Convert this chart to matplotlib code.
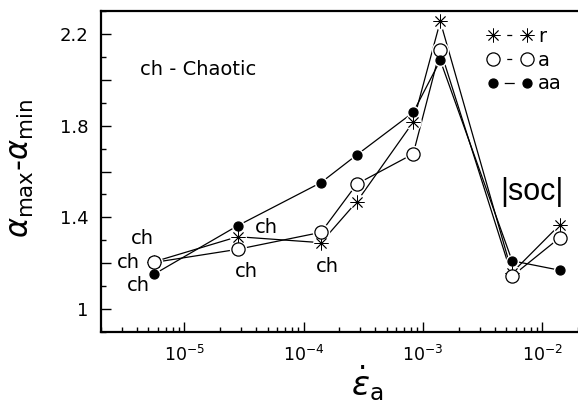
import matplotlib
matplotlib.use('Agg')
import matplotlib.pyplot as plt
from matplotlib.lines import Line2D
from matplotlib.ticker import FixedLocator, MultipleLocator, NullFormatter

plt.rcParams['font.family'] = ['DejaVu Sans']
plt.rcParams['mathtext.fontset'] = 'dejavusans'

# strain rate values and the three series
eps_rate = [5.6e-6, 2.8e-5, 1.4e-4, 2.8e-4, 8.3e-4, 1.4e-3, 5.6e-3, 1.4e-2]
width_r = [1.207, 1.316, 1.290, 1.469, 1.816, 2.255, 1.159, 1.367]
width_a = [1.204, 1.261, 1.335, 1.546, 1.677, 2.131, 1.144, 1.311]
width_aa = [1.153, 1.364, 1.552, 1.673, 1.858, 2.085, 1.211, 1.170]
series_labels = ['r', 'a', 'aa']

y_ticks = [1.0, 1.2, 1.4, 1.6, 1.8, 2.0, 2.2]
y_tick_labels = ['1', '', '1.4', '', '1.8', '', '2.2']

ch_notes = [(4.49e-6, 1.310), (3.39e-6, 1.205), (4.08e-6, 1.105),
            (4.88e-5, 1.354), (3.32e-5, 1.163), (1.57e-4, 1.185)]

fig = plt.figure(figsize=(5.78, 4.08), dpi=100)
ax = fig.add_axes([0.1747, 0.186, 0.8253, 0.787])

styles = [
    dict(marker=(8, 2, 0), ms=10, mfc='none', mec='black', mew=0.6),
    dict(marker='o', ms=9.5, mfc='white', mec='black', mew=0.9),
    dict(marker='o', ms=6.5, mfc='black', mec='black', mew=0.9),
]
halo_sizes = [12, 12.5, 9.5]
data = [width_r, width_a, width_aa]

for vals in data:
    ax.plot(eps_rate, vals, color='black', lw=0.9, zorder=2)
# white halos so the lines stop short of the symbols
for vals, hs in zip(data, halo_sizes):
    ax.plot(eps_rate, vals, ls='none', marker='o', ms=hs, mfc='white',
            mec='none', zorder=3)
for vals, st in zip(data, styles):
    ax.plot(eps_rate, vals, ls='none', zorder=4, **st)

ax.set_xscale('log')
ax.set_xlim(2e-6, 2e-2)
ax.set_ylim(0.9, 2.3)

ax.yaxis.set_major_locator(FixedLocator(y_ticks))
ax.yaxis.set_minor_locator(MultipleLocator(0.1))
ax.set_yticklabels(y_tick_labels)
ax.xaxis.set_minor_formatter(NullFormatter())

ax.tick_params(which='both', direction='in', top=False, right=False)
ax.tick_params(which='major', length=7, width=1.0, labelsize=13, pad=9)
ax.tick_params(which='minor', length=3.5, width=1.0)
ax.tick_params(axis='x', which='major', labelsize=12.5, pad=9)
for side in ['left', 'bottom', 'top']:
    ax.spines[side].set_linewidth(1.6)
ax.spines['right'].set_visible(False)

ax.text(4.27e-6, 2.044, 'ch - Chaotic', fontsize=14, ha='left', va='center')
for xn, yn in ch_notes:
    ax.text(xn, yn, 'ch', fontsize=14, ha='center', va='center')
ax.text(8.15e-3, 1.512, '|soc|', fontsize=22, ha='center', va='center',
        family=['Liberation Sans Narrow', 'Liberation Sans'])

fig.text(0.038, 0.586, r'$\alpha_{\rm max}$-$\alpha_{\rm min}$', fontsize=22,
         rotation=90, ha='center', va='center')
fig.text(0.635, 0.03, r'$\dot{\varepsilon}_{\rm a}$', fontsize=24,
         ha='center', va='baseline')

# legend samples: symbol, short dash, symbol
handles = [
    Line2D([], [], color='black', lw=0.9, ls=(0, (0, 11, 4, 100)), **styles[0]),
    Line2D([], [], color='black', lw=0.9, ls=(0, (0, 11, 4, 100)), **styles[1]),
    Line2D([], [], color='black', lw=0.9, ls=(0, (0, 9, 8, 100)), **styles[2]),
]
ax.legend(handles, series_labels, loc='upper left', bbox_to_anchor=(0.8426, 0.9346),
          bbox_transform=fig.transFigure, frameon=False, numpoints=2, fontsize=14,
          handlelength=2.35, handletextpad=0.28, labelspacing=0.25,
          borderpad=0, borderaxespad=0)

fig.savefig('out.png', dpi=100)
